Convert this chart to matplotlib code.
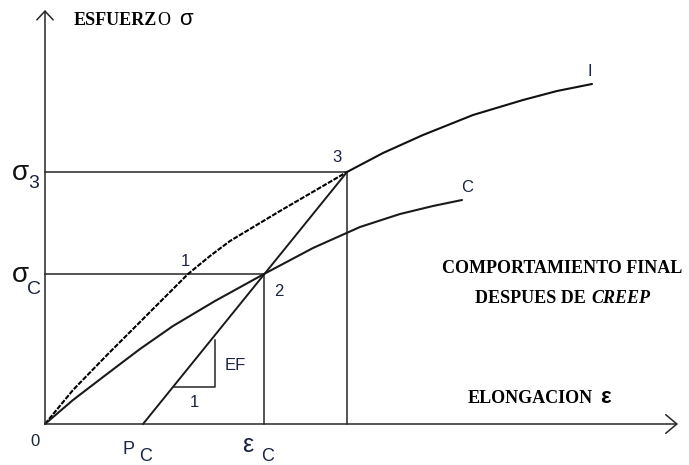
"""
Stress-elongation sketch: instantaneous curve (I), creep curve (C),
final behaviour after creep with unloading line EF from P_C through points 2 and 3.
Output: out.png
"""
import matplotlib

matplotlib.use("Agg")
import matplotlib.pyplot as plt  # noqa: E402

# curve I, dashed part (origin -> point 3), elongation / stress units
inst_eps = [0, 28, 62, 95, 143, 165, 185, 235, 302]
inst_sig = [0, 34, 69, 102, 150, 168, 183, 213, 252]
# curve I, solid continuation after point 3
inst_tail_eps = [302, 338, 378, 428, 478, 512, 547]
inst_tail_sig = [252, 271, 289, 309, 324, 333, 340]
# curve C (after creep)
creep_eps = [0, 28, 62, 95, 128, 170, 219, 268, 315, 355, 388, 417]
creep_sig = [0, 24, 50, 75, 98, 123, 150, 176, 197, 210, 218, 224]

# characteristic points
sig_3, eps_3 = 252, 302
sig_c, eps_c = 150, 219
p_c = 98
# slope triangle on the EF line
tri_eps = [128, 170, 170]
tri_sig = [37, 37, 84]

LINE = "#262626"
LBL = "#1b2440"
SERIF = "Liberation Serif"
SANS = "Liberation Sans"

fig = plt.figure(figsize=(6.89, 4.65), dpi=100)
ax = fig.add_axes([0, 0, 1, 1])
ax.set_xlim(-45, 644)
ax.set_ylim(-41, 424)
ax.axis("off")

# axes with open arrow heads
ax.annotate("", xy=(0, 414), xytext=(0, 0),
            arrowprops=dict(arrowstyle="->,head_length=0.45,head_width=0.42",
                            lw=1.1, color=LINE, shrinkA=0, shrinkB=0,
                            mutation_scale=14))
ax.annotate("", xy=(633, 0), xytext=(0, 0),
            arrowprops=dict(arrowstyle="->,head_length=0.57,head_width=0.48",
                            lw=1.1, color=LINE, shrinkA=0, shrinkB=0,
                            mutation_scale=14))

# guide lines
ax.plot([0, eps_3, eps_3], [sig_3, sig_3, 0], color=LINE, lw=1.1)
ax.plot([0, eps_c, eps_c], [sig_c, sig_c, 0], color=LINE, lw=1.1)

# curves
ax.plot(inst_eps, inst_sig, color="#000000", lw=1.5, ls=(0, (2.4, 0.7)))
ax.plot(inst_tail_eps, inst_tail_sig, color="#111111", lw=1.5, solid_capstyle="round")
ax.plot(creep_eps, creep_sig, color="#1a1a1a", lw=1.5, solid_capstyle="round")
ax.plot([p_c, eps_3], [0, sig_3], color="#1a1a1a", lw=1.4)
ax.plot(tri_eps, tri_sig, color=LINE, lw=1.1)

# point / curve labels
ax.text(140, 162, "1", fontsize=12, color=LBL, family=SANS, ha="center", va="center")
ax.text(234, 133, "2", fontsize=12, color=LBL, family=SANS, ha="center", va="center")
ax.text(292, 267, "3", fontsize=12, color=LBL, family=SANS, ha="center", va="center")
ax.text(545, 352, "I", fontsize=12, color=LBL, family=SANS, ha="center", va="center")
ax.text(422, 237, "C", fontsize=12, color=LBL, family=SANS, ha="center", va="center")
ax.text(190, 59, "EF", fontsize=12, color=LBL, family=SANS, ha="center", va="center")
ax.text(149, 22, "1", fontsize=12, color=LBL, family=SANS, ha="center", va="center")

# axis value labels
ax.text(-25, 251, "σ", fontsize=20, color="#111111", family=SANS, ha="center", va="center")
ax.text(-11, 241, "3", fontsize=14, color=LBL, family=SANS, ha="center", va="center")
ax.text(-25, 149, "σ", fontsize=20, color="#111111", family=SANS, ha="center", va="center")
ax.text(-11, 134, "C", fontsize=14, color=LBL, family=SANS, ha="center", va="center")
ax.text(-10, -17, "0", fontsize=12, color=LBL, family=SANS, ha="center", va="center")
ax.text(83, -25, "P", fontsize=13, color=LBL, family=SANS, ha="center", va="center")
ax.text(101, -32, "C", fontsize=13, color=LBL, family=SANS, ha="center", va="center")
ax.text(203, -21, "ε", fontsize=18, color=LBL, family=SANS, ha="center", va="center")
ax.text(223, -32, "C", fontsize=13, color=LBL, family=SANS, ha="center", va="center")

# titles
ax.text(112, 399, "ESFUERZ", fontsize=13, family=SERIF, weight="bold", ha="right", va="baseline")
ax.text(112, 399, "O", fontsize=13, family=SERIF, ha="left", va="baseline")
ax.text(141, 399, "σ", fontsize=16, family=SANS, ha="center", va="baseline")

ax.text(517, 151, "COMPORTAMIENTO FINAL", fontsize=13, family=SERIF, weight="bold",
        ha="center", va="baseline")
ax.text(545, 121, "DESPUES DE ", fontsize=13, family=SERIF, weight="bold",
        ha="right", va="baseline")
ax.text(546, 121, "CREEP", fontsize=13, family=SERIF, weight="bold", style="italic",
        ha="left", va="baseline")

ax.text(423, 21, "ELONGACION", fontsize=13, family=SERIF, weight="bold",
        ha="left", va="baseline")
ax.text(555, 21, "ε", fontsize=16, family=SANS, weight="bold", ha="left", va="baseline")

fig.savefig("out.png", dpi=100)
plt.close(fig)
